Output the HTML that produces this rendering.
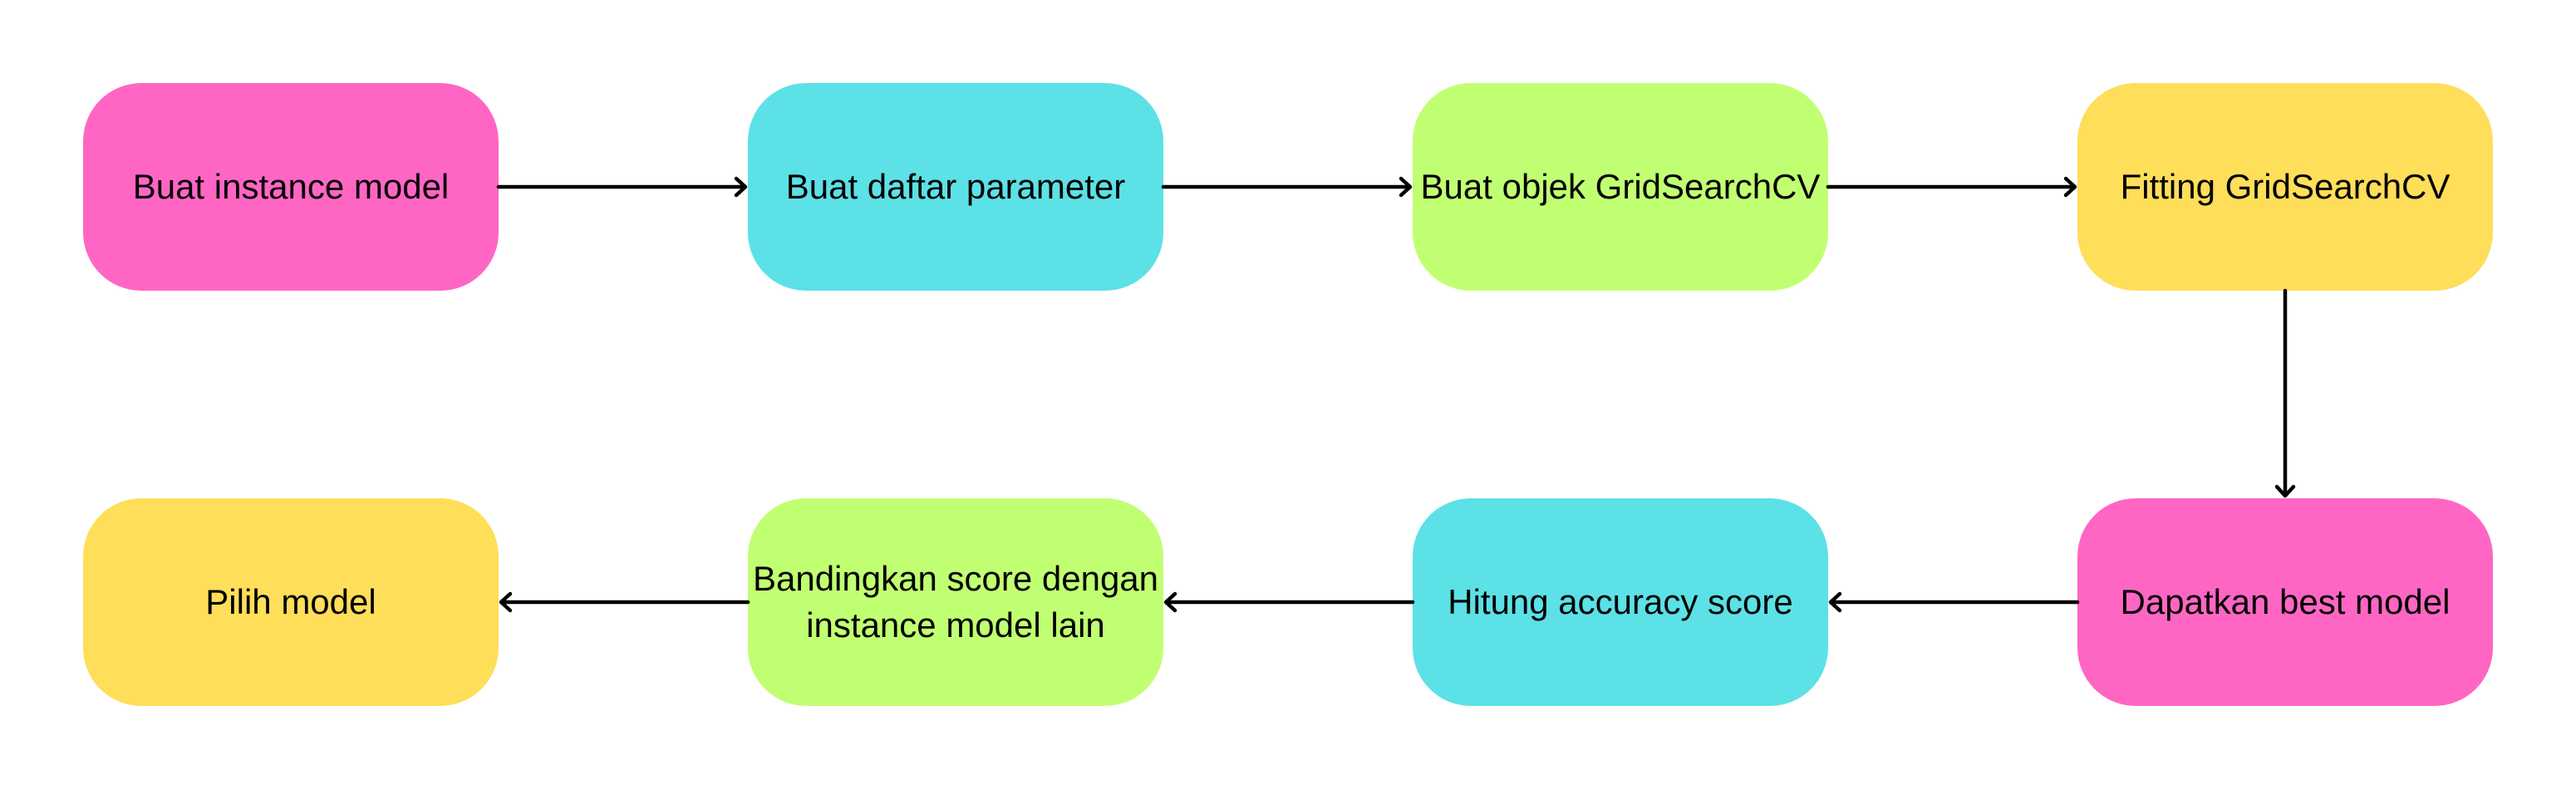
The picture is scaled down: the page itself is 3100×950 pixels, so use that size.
<!DOCTYPE html>
<html><head><style>
html,body{margin:0;padding:0;background:#fff;}
body{width:3100px;height:950px;position:relative;overflow:hidden;font-family:"Liberation Sans",sans-serif;}
.b{position:absolute;width:500px;height:250px;border-radius:70px;display:flex;align-items:center;justify-content:center;text-align:center;font-size:42px;line-height:56px;color:#000;white-space:nowrap;}
.p{background:#ff66c4}.c{background:#5ce1e6}.g{background:#c1ff72}.y{background:#ffde59}
svg{position:absolute;left:0;top:0}
</style></head><body>
<div class="b p" style="left:100px;top:100px">Buat instance model</div>
<div class="b c" style="left:900px;top:100px">Buat daftar parameter</div>
<div class="b g" style="left:1700px;top:100px">Buat objek GridSearchCV</div>
<div class="b y" style="left:2500px;top:100px">Fitting GridSearchCV</div>
<div class="b y" style="left:100px;top:600px">Pilih model</div>
<div class="b g" style="left:900px;top:600px">Bandingkan score dengan<br>instance model lain</div>
<div class="b c" style="left:1700px;top:600px">Hitung accuracy score</div>
<div class="b p" style="left:2500px;top:600px">Dapatkan best model</div>
<svg width="3100" height="950">
<g stroke="#000" stroke-width="4.5" fill="none" stroke-linecap="round" stroke-linejoin="round">
<line x1="600" y1="225" x2="896" y2="225"/><polyline points="886,215 897,225 886,235"/>
<line x1="1400" y1="225" x2="1696" y2="225"/><polyline points="1686,215 1697,225 1686,235"/>
<line x1="2200" y1="225" x2="2496" y2="225"/><polyline points="2486,215 2497,225 2486,235"/>
<line x1="2750" y1="350" x2="2750" y2="596"/><polyline points="2740,586 2750,597 2760,586"/>
<line x1="2500" y1="725" x2="2204" y2="725"/><polyline points="2214,715 2203,725 2214,735"/>
<line x1="1700" y1="725" x2="1404" y2="725"/><polyline points="1414,715 1403,725 1414,735"/>
<line x1="900" y1="725" x2="604" y2="725"/><polyline points="614,715 603,725 614,735"/>
</g></svg>
</body></html>
